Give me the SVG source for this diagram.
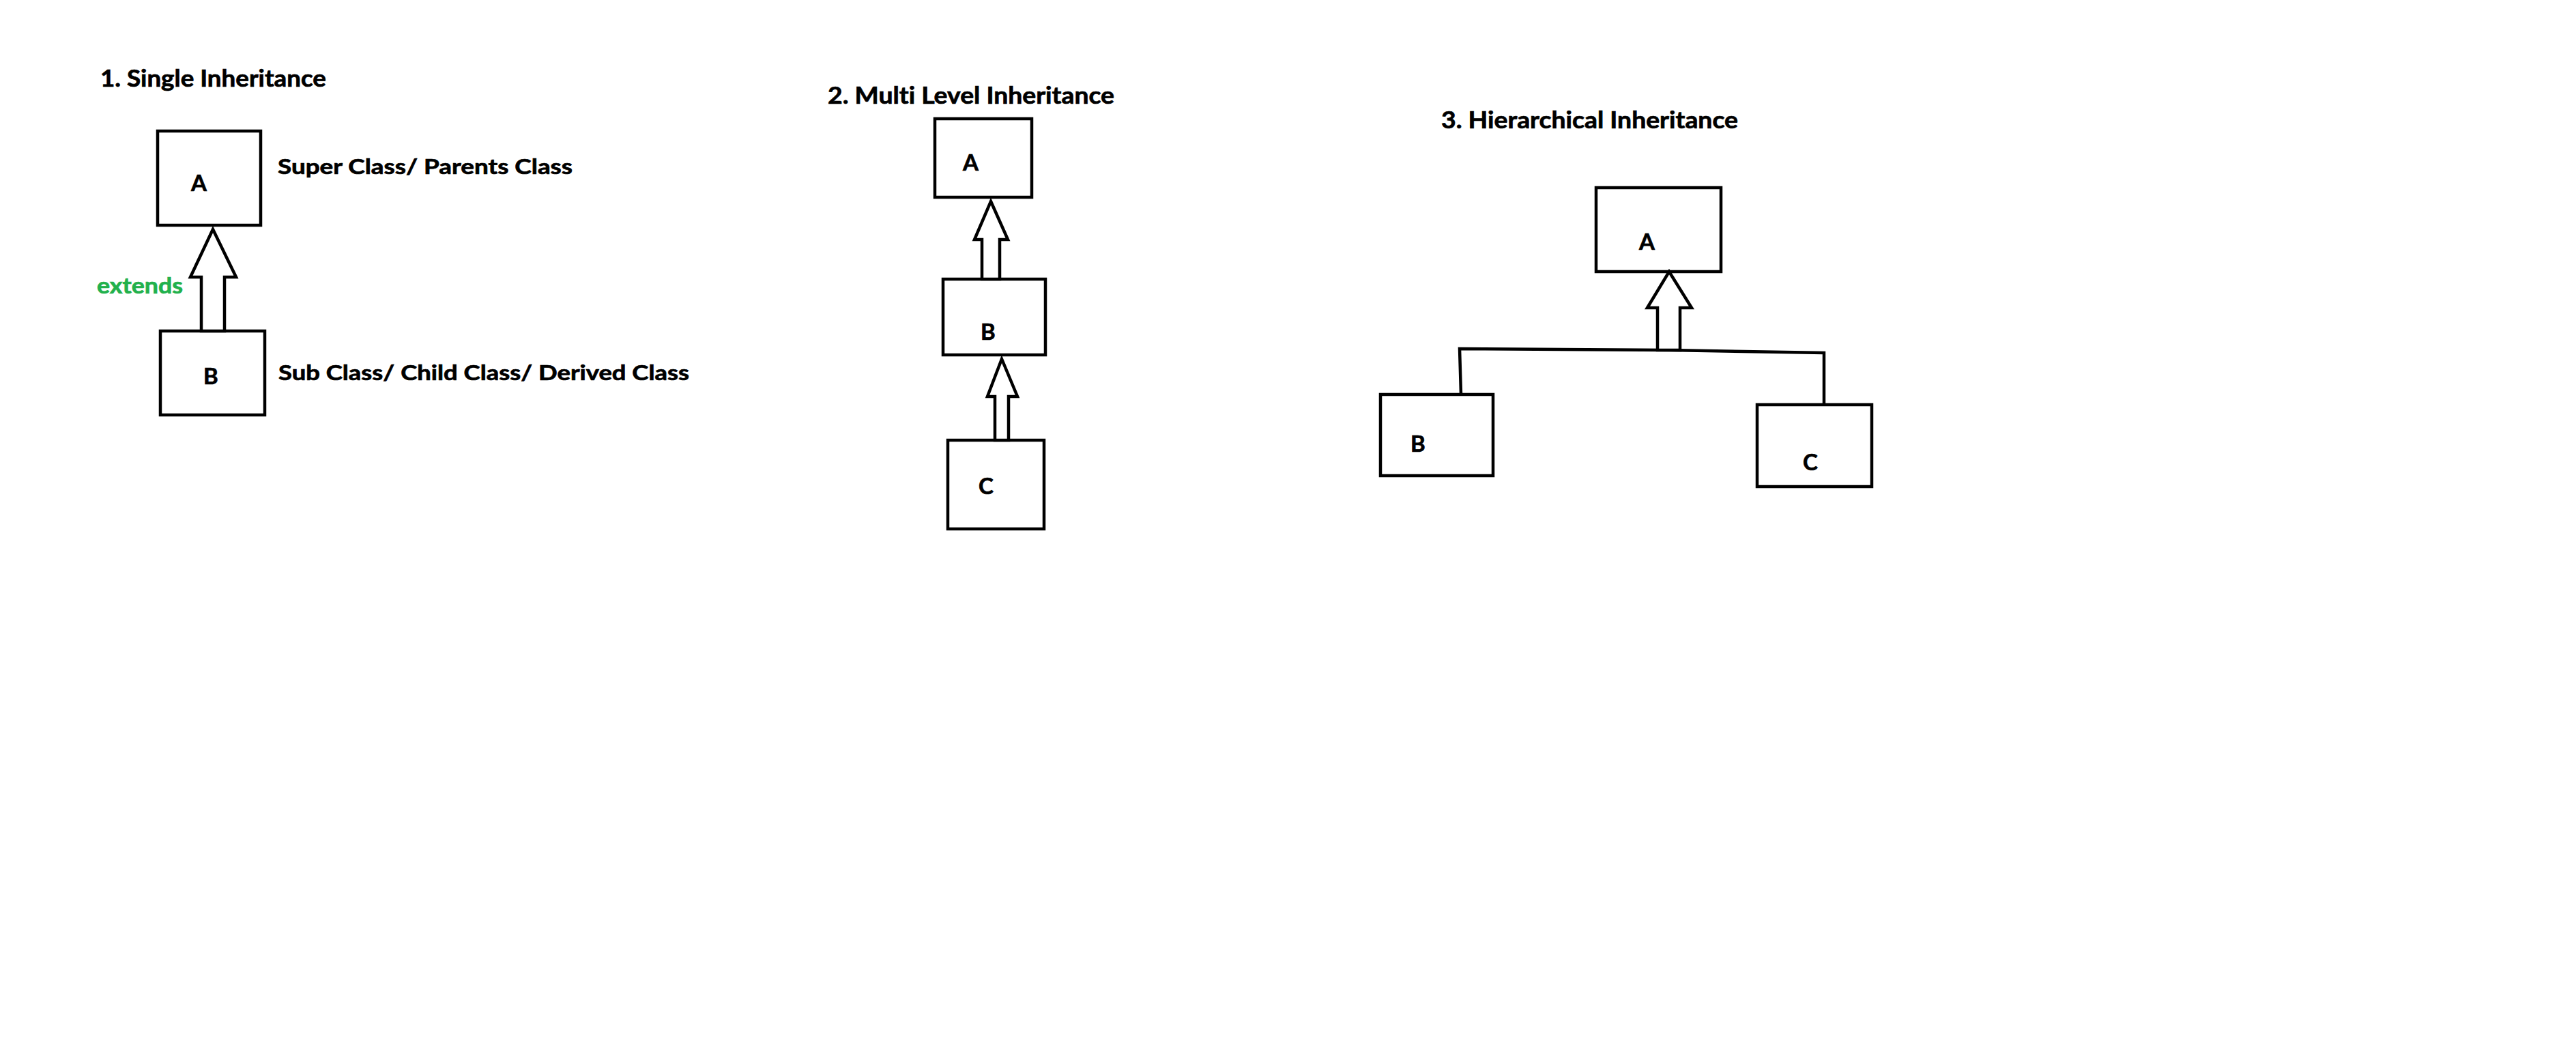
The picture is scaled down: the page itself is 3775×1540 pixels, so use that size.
<svg xmlns="http://www.w3.org/2000/svg" width="3775" height="1540" viewBox="0 0 3775 1540">
<style>
.box{fill:#fff;stroke:#000;stroke-width:4.5}
.arr{fill:#fff;stroke:#000;stroke-width:4.5;stroke-linejoin:miter}
.ln{fill:none;stroke:#000;stroke-width:4.5;stroke-linejoin:miter}
text{font-family:Lato,"Liberation Sans",sans-serif;font-weight:bold;fill:#000;stroke:#000;stroke-width:0.7;font-variant-ligatures:none}
.t{font-size:34px}
.lbl{font-size:31px}
.ltr{font-size:33px}
.ext{font-size:33px;fill:#22B14C;stroke:#22B14C}
</style>
<rect width="3775" height="1540" fill="#fff"/>
<g id="titles">
<text class="t" x="147" y="127" textLength="331" lengthAdjust="spacingAndGlyphs">1. Single Inheritance</text>
<text class="t" x="1213" y="152" textLength="420" lengthAdjust="spacingAndGlyphs">2. Multi Level Inheritance</text>
<text class="t" x="2112" y="188" textLength="435" lengthAdjust="spacingAndGlyphs">3. Hierarchical Inheritance</text>
</g>
<g id="s1-A"><rect class="box" x="231" y="192" width="151" height="138"/><text class="ltr" x="280" y="280">A</text></g>
<g id="s1-B"><rect class="box" x="235" y="485" width="153" height="123"/><text class="ltr" x="298" y="563">B</text></g>
<g id="s1-labels">
<text class="lbl" x="407" y="255" textLength="432" lengthAdjust="spacingAndGlyphs">Super Class/ Parents Class</text>
<text class="lbl" x="408" y="557" textLength="602" lengthAdjust="spacingAndGlyphs">Sub Class/ Child Class/ Derived Class</text>
<text class="ext" x="142" y="430" textLength="126" lengthAdjust="spacingAndGlyphs">extends</text>
</g>
<g id="m-A"><rect class="box" x="1370" y="174" width="142" height="115"/><text class="ltr" x="1411" y="250">A</text></g>
<g id="m-B"><rect class="box" x="1382" y="409" width="150" height="111"/><text class="ltr" x="1437" y="498">B</text></g>
<g id="m-C"><rect class="box" x="1389" y="645" width="141" height="130"/><text class="ltr" x="1434" y="724">C</text></g>
<g id="h-A"><rect class="box" x="2339" y="275" width="183" height="123"/><text class="ltr" x="2402" y="366">A</text></g>
<g id="h-B"><rect class="box" x="2023" y="578" width="165" height="119"/><text class="ltr" x="2067" y="662">B</text></g>
<g id="h-C"><rect class="box" x="2575" y="593" width="168" height="120"/><text class="ltr" x="2642" y="689">C</text></g>
<g id="connectors">
<polygon class="arr" points="312,336 346,406 329,406 329,485 295,485 295,406 279,406"/>
<polygon class="arr" points="1452,295 1477,351 1465,351 1465,409 1439,409 1439,351 1428,351"/>
<polygon class="arr" points="1468,526 1491,581 1478,581 1478,645 1458,645 1458,581 1447,581"/>
<polyline class="ln" points="2141,578 2139,511 2446,513 2673,517 2673,593"/>
<polygon class="arr" points="2446,398 2479,451 2462,451 2462,513 2429,513 2429,451 2414,451"/>
</g>
</svg>
